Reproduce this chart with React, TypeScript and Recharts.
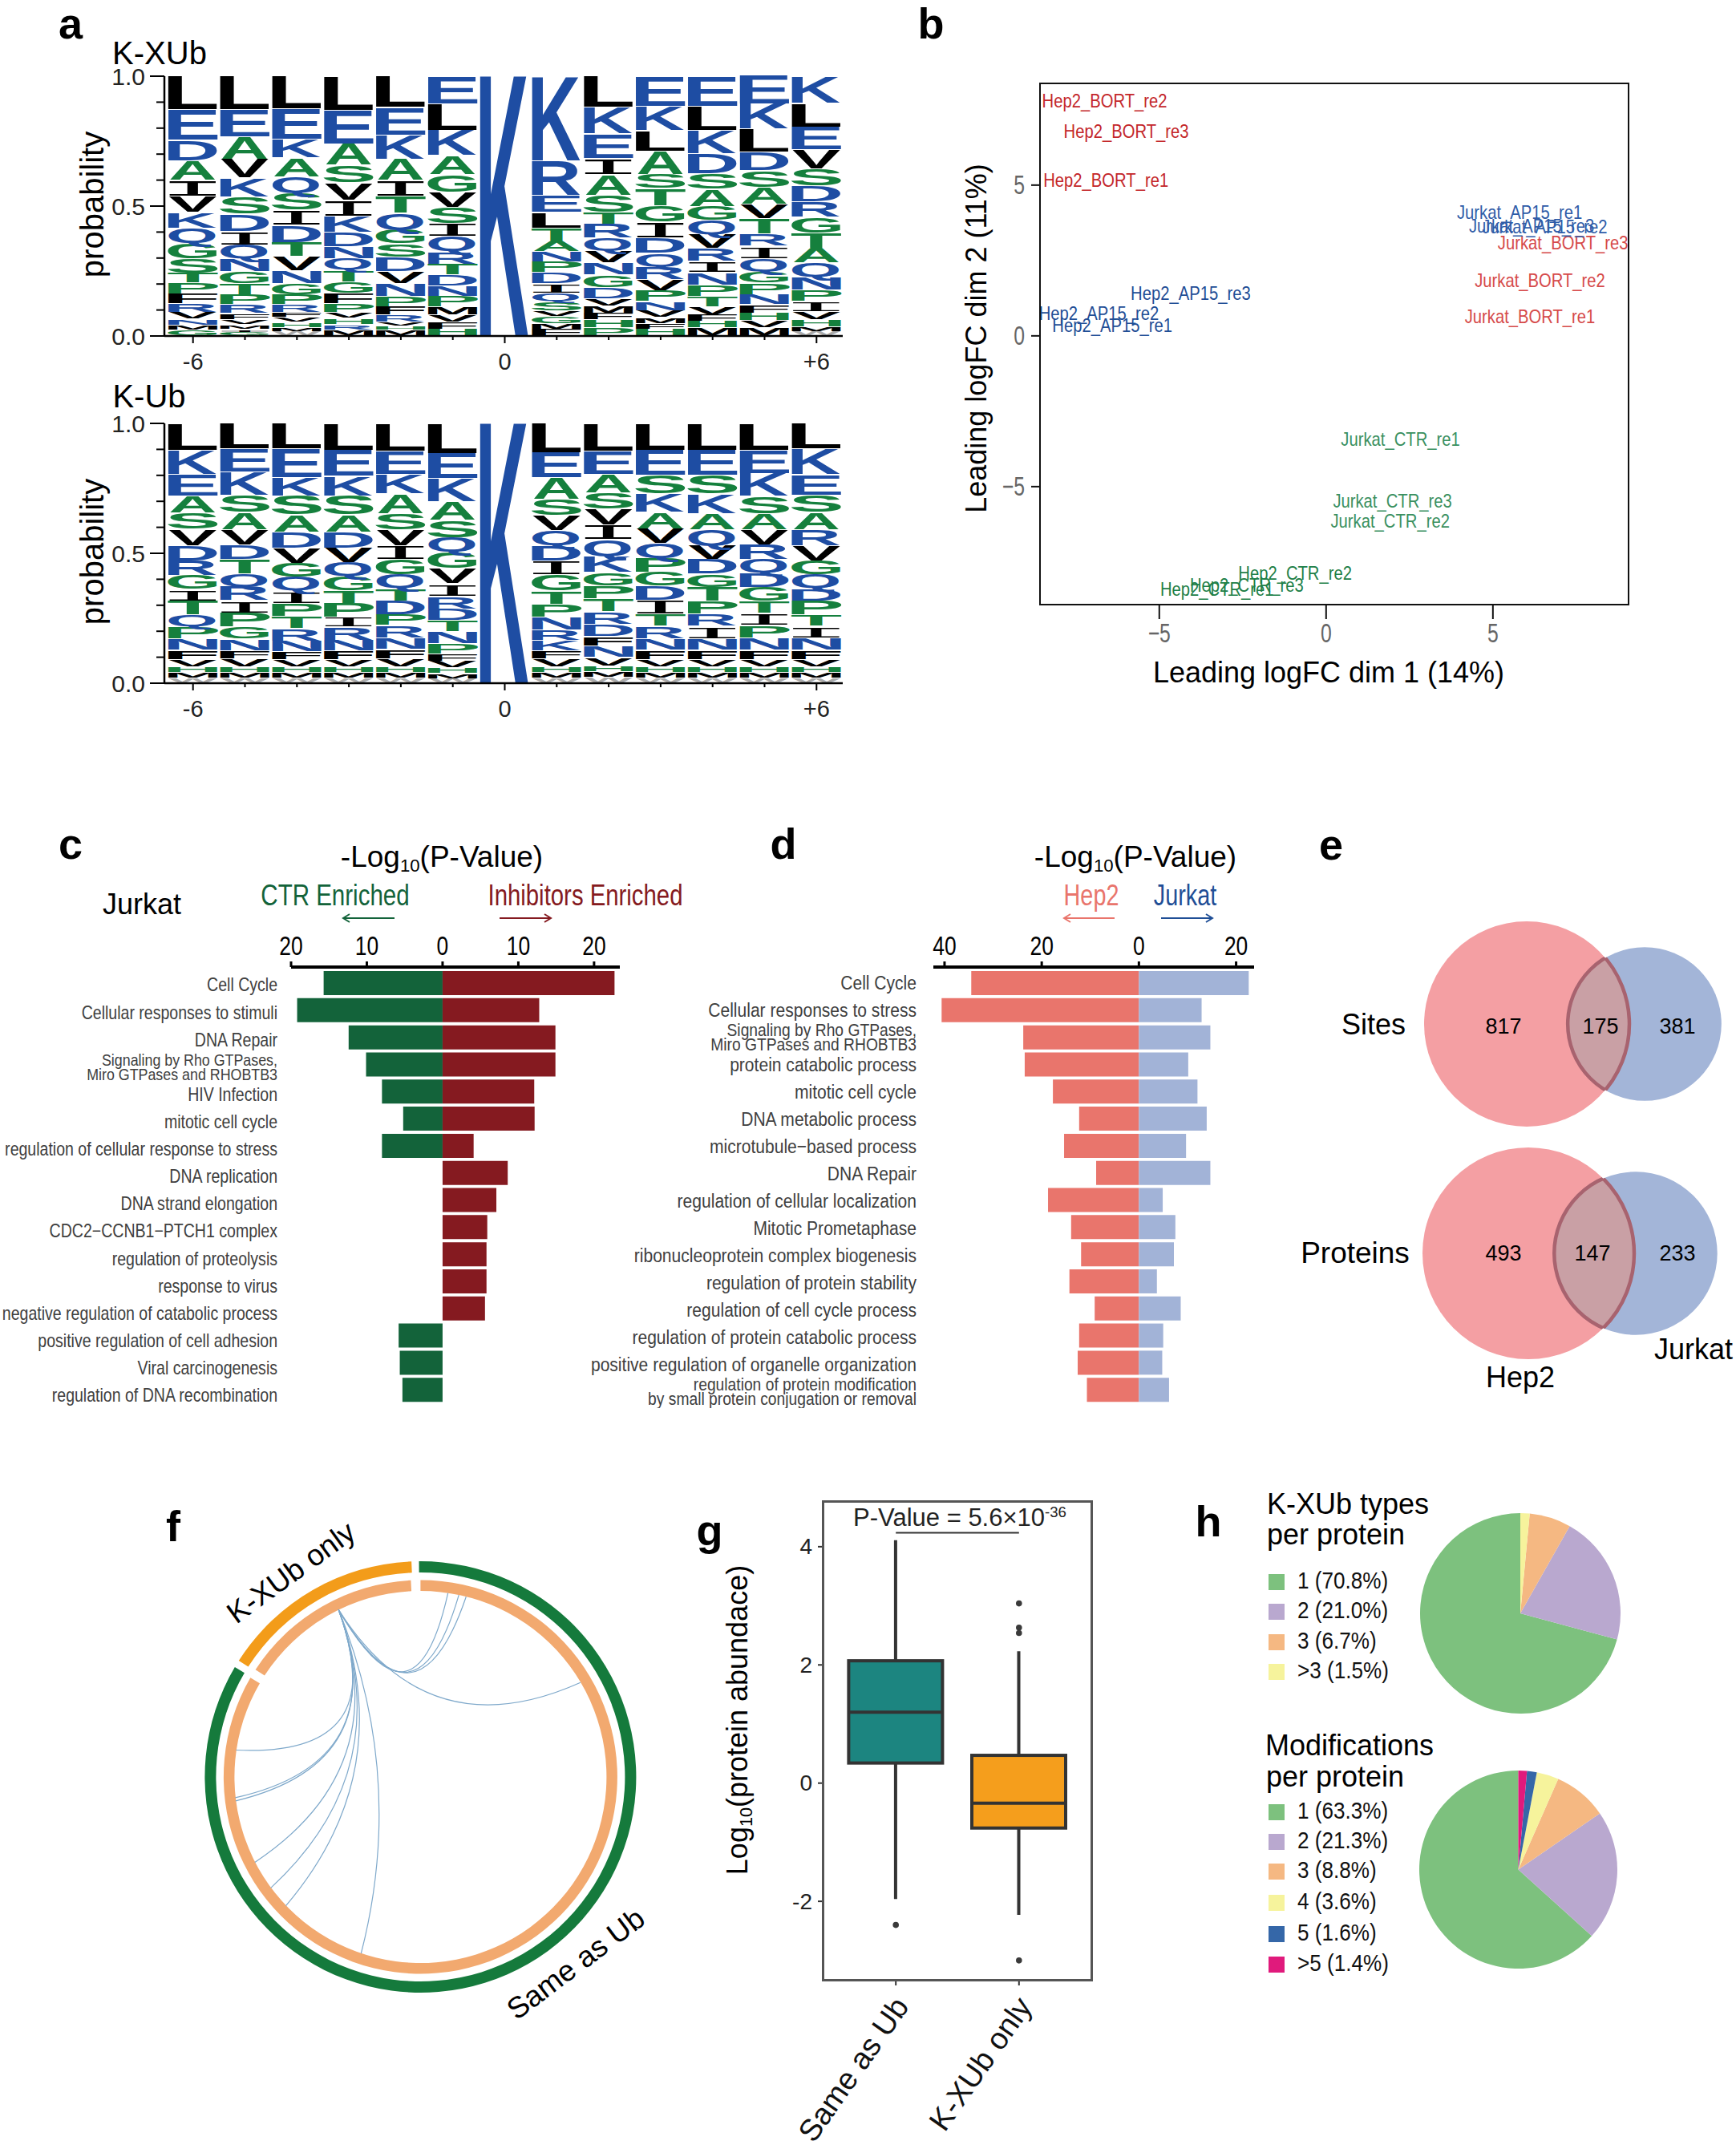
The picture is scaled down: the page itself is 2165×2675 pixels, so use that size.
import React from "react";
import {
  Bar,
  BarChart,
  Cell,
  ComposedChart,
  Line,
  Pie,
  PieChart,
  ReferenceLine,
  Scatter,
  ScatterChart,
  XAxis,
  YAxis,
  ZAxis,
} from "recharts";

const FONT = "'Liberation Sans', Arial, sans-serif";

// panel a: letter + height in percent, top of the stack first
const logoPositions = ["-6", "-5", "-4", "-3", "-2", "-1", "0", "+1", "+2", "+3", "+4", "+5", "+6"];
const kxubColumns = [
  "L12.8 E11.9 D8 A7.4 I6.2 V6.2 K6 Q5.9 G5.9 S5.5 T4 P4.1 F3.9 R3.3 V2.6 N2.3 M2 G2.2",
  "L12.8 E10.5 A8.5 V7.2 K7.2 S6.7 D6.7 I5.1 Q5.3 N4.9 G4.6 T4.3 P3.7 R3.5 F2.4 V2 M1.7 I1.1 G1.5",
  "L12.6 E11.7 K7 A7.2 Q6.4 S6.5 I5.7 D6.7 T5.4 V5.3 N5.1 G4.3 P3.7 R3.1 F1.7 V2 H2 M1.5 W1.8",
  "L13 E13 A8.2 S6.7 V6.7 I6.2 K6.4 D5.3 N4.6 Q4.6 T4.4 G4.4 F4 P3.4 V2.3 H2.4 R2 M2.4",
  "L12 E10.6 K9.2 A8.2 I6.2 T6.5 Q6.2 G5.5 S5.1 D5.4 V4.8 N4.9 P3.9 F3.3 R2.6 V1.5 H1.5 M2.4",
  "E10.6 L10.3 K9.7 A7.2 G6.8 V5.9 S6.2 I5.1 Q5.9 R4.7 T4.3 D4.3 N3.9 P4.1 M2.9 V2.8 F2.8 H2.7",
  "K100",
  "K32.5 R13.3 E6.7 L6 T5 A4.1 N3.9 P4.1 D4.3 I3.6 Q3.2 S3.6 V2.3 G2.7 M2.1 F2.7",
  "L12 K10.1 E9.4 I6.2 A8 S6.6 T4.6 R5.3 Q5 V4.6 N4.6 G4.8 D4.4 V2.7 M2.7 F2.7 H3 P3.2",
  "E11.5 K9.4 L8 A8.9 S5.3 T6.7 G6.2 I6.2 D6 Q5 R5 V4.3 P4.1 N3.6 V2.7 M2.3 F2.3 H2.5",
  "E11.5 L9.4 K8.9 D7.6 S6 A6.7 G5.3 Q5.3 V5.3 R5 I4.4 N4.8 P4.4 T3.9 V3 F2.5 H2.5 M3.2",
  "E10.8 K9.6 L8.9 D7.1 S6.4 A6.6 V5.3 T5.9 R4.8 I4.8 Q5 G4.4 P4.4 N3.9 F3.2 H3 V2.7 M3.2",
  "K10.3 L9.2 E8.9 V7.3 S6.6 D6.2 R5.9 G6 T5.9 A5.7 Q5.3 N5 P4.4 I3.9 V3.2 H2.7 M1.8 W1.8",
];
const kubColumns = [
  "L10.3 K9.2 E8.3 A6.7 S6.2 V6.2 D5.9 R5.7 G5.3 I4.4 T5.3 Q4.8 P4.6 N4.3 F3.6 V2.7 H2.3 M2.1 W2",
  "L9.8 E8.9 K8.9 S6.6 A6.7 V5.9 D5.5 T5.5 Q5 R5.3 I4.8 P5.3 G4.8 N4.4 F3.2 V3 H2.3 M2.1 W2",
  "L9.8 E11 K7.1 S7.3 A6.6 D6.2 V5.9 G5.3 Q5.3 I4.8 P5 T4.8 R4.8 N4.1 F3 V2.7 H2.3 M2.1 W2",
  "L10.3 E10.1 K7.5 S7.3 A6.6 D6.2 V5.7 Q5.3 G5.3 T5 P5.3 I3.9 R5 N4.1 F3.4 V2.7 H2.3 M2.1 W2",
  "L10.7 E8.9 K7.5 A7.6 S6.2 V6.2 I5.3 G5.9 Q5.3 T4.8 D5.3 P4.1 R4.8 N4.4 F3.6 V3 H2.3 M2.1 W2",
  "L11.5 E9.8 K8.9 A7.1 S6.7 Q5.7 G6.2 V5.9 I4.8 R4.8 D4.6 T4.3 N4.6 P3.9 F2.7 V2.7 H2.1 M2 W1.8",
  "K100",
  "L11.2 E9.8 A8.3 S6.2 V5.9 Q5.7 D5.9 I5.3 G6.2 T5.2 P5 N5 R3.9 K3.9 F3.2 V3 H2.3 M2.1 W2",
  "L10.7 E8.9 A7.1 S6.2 V6.2 I5.7 Q6.4 K6.2 G5.2 P5 T5 R4.8 D4.8 F3.6 N4.4 V3.2 H2.3 M2.1 W2.3",
  "L10.3 E9.6 S7.1 K7.1 A6.4 V5.7 Q5.7 P5.3 G5.3 D5.5 I5.3 T4.8 R4.8 N4.4 F3.6 V2.7 H2.3 M2.1 W2",
  "L10.3 E9.6 S7.1 K7.6 A6.2 Q6.2 V5.3 D5.7 G5 T5.3 P5 R4.8 I4.8 N4.4 F3.6 V2.7 H2.3 M2.1 W2",
  "L10.3 E8.9 K8.9 S6.6 A6.2 V5.9 R5.7 Q5.3 D5.3 G5.3 T4.8 I4.6 P4.8 N4.8 F3.6 V2.7 H2.3 M2.1 W2",
  "L9.8 K9.8 E8 S6.6 A6.7 R6.2 V5.9 G5.3 Q5.3 D4.8 P5.3 T4.4 I4.4 N4.8 F3.6 V2.7 H2.3 M2.1 W2",
];

// panel b
const hep2Bort = [
  { name: "Hep2_BORT_re2", x: -6.64, y: 7.79 },
  { name: "Hep2_BORT_re3", x: -5.99, y: 6.78 },
  { name: "Hep2_BORT_re1", x: -6.6, y: 5.15 },
];
const jurkatBort = [
  { name: "Jurkat_BORT_re3", x: 7.1, y: 3.08 },
  { name: "Jurkat_BORT_re2", x: 6.41, y: 1.83 },
  { name: "Jurkat_BORT_re1", x: 6.11, y: 0.63 },
];
const hep2Ap15 = [
  { name: "Hep2_AP15_re3", x: -4.06, y: 1.4 },
  { name: "Hep2_AP15_re2", x: -6.81, y: 0.75 },
  { name: "Hep2_AP15_re1", x: -6.41, y: 0.35 },
];
const jurkatAp15 = [
  { name: "Jurkat_AP15_re1", x: 5.8, y: 4.09 },
  { name: "Jurkat_AP15_re3", x: 6.16, y: 3.65 },
  { name: "Jurkat_AP15_re2", x: 6.55, y: 3.6 },
];
const jurkatCtr = [
  { name: "Jurkat_CTR_re1", x: 2.23, y: -3.44 },
  { name: "Jurkat_CTR_re3", x: 1.99, y: -5.48 },
  { name: "Jurkat_CTR_re2", x: 1.92, y: -6.14 },
];
const hep2Ctr = [
  { name: "Hep2_CTR_re2", x: -0.93, y: -7.89 },
  { name: "Hep2_CTR_re3", x: -2.38, y: -8.27 },
  { name: "Hep2_CTR_re1", x: -3.27, y: -8.41 },
];

// panel c
const cLabels = [
  "Cell Cycle",
  "Cellular responses to stimuli",
  "DNA Repair",
  "Signaling by Rho GTPases,|Miro GTPases and RHOBTB3",
  "HIV Infection",
  "mitotic cell cycle",
  "regulation of cellular response to stress",
  "DNA replication",
  "DNA strand elongation",
  "CDC2−CCNB1−PTCH1 complex",
  "regulation of proteolysis",
  "response to virus",
  "negative regulation of catabolic process",
  "positive regulation of cell adhesion",
  "Viral carcinogenesis",
  "regulation of DNA recombination",
];
const cCtr = [15.7, 19.2, 12.4, 10.1, 8.0, 5.2, 8.0, 0, 0, 0, 0, 0, 0, 5.8, 5.65, 5.3];
const cInhibitors = [22.7, 12.76, 14.9, 14.9, 12.1, 12.15, 4.1, 8.6, 7.1, 5.9, 5.8, 5.8, 5.6, 0, 0, 0];

// panel d
const dLabels = [
  "Cell Cycle",
  "Cellular responses to stress",
  "Signaling by Rho GTPases,|Miro GTPases and RHOBTB3",
  "protein catabolic process",
  "mitotic cell cycle",
  "DNA metabolic process",
  "microtubule−based process",
  "DNA Repair",
  "regulation of cellular localization",
  "Mitotic Prometaphase",
  "ribonucleoprotein complex biogenesis",
  "regulation of protein stability",
  "regulation of cell cycle process",
  "regulation of protein catabolic process",
  "positive regulation of organelle organization",
  "regulation of protein modification|by small protein conjugation or removal",
];
const dHep2 = [34.5, 40.6, 23.8, 23.5, 17.7, 12.3, 15.4, 8.8, 18.7, 13.95, 11.9, 14.3, 9.1, 12.3, 12.6, 10.7];
const dJurkat = [22.6, 12.9, 14.7, 10.15, 12.05, 13.95, 9.7, 14.7, 4.9, 7.5, 7.2, 3.7, 8.6, 5.0, 4.8, 6.2];

// panel e: totals per set, the circle area follows them
const sitesTotals = [992, 556];
const proteinsTotals = [640, 380];

// panel f
const ringValues = [301, 55];
const innerRingValues = [300.5, 54.2];
const linkFrom = [334, 334, 334, 334, 334, 334, 334, 334, 334, 334, 334];
const linkTo = [8.6, 12, 14.3, 59.5, 278.3, 263.6, 262.6, 242.7, 233.4, 226.2, 198.5];

// panel g
const boxNames = ["Same as Ub", "K-XUb only"];
const boxLow = [-1.96, -2.23];
const boxQ1 = [0.34, -0.76];
const boxMedian = [1.2, -0.34];
const boxQ3 = [2.07, 0.47];
const boxHigh = [4.11, 2.23];
const boxOutliers = [[-2.4], [3.04, 2.63, 2.54, -3.0]];

// panel h
const typesLabels = ["1 (70.8%)", "2 (21.0%)", "3 (6.7%)", ">3 (1.5%)"];
const typesValues = [70.8, 21.0, 6.7, 1.5];
const modsLabels = ["1 (63.3%)", "2 (21.3%)", "3 (8.8%)", "4 (3.6%)", "5 (1.6%)", ">5 (1.4%)"];
const modsValues = [63.3, 21.3, 8.8, 3.6, 1.6, 1.4];
const pieColors = ["#7DC17E", "#B9A8CF", "#F5B882", "#F6F39C", "#3567A8", "#E01A7C"];

const LOGO_BLUE = "#1E4DA3";
const LOGO_GREEN = "#15803D";
const letterColor: Record<string, string> = {
  K: LOGO_BLUE, E: LOGO_BLUE, D: LOGO_BLUE, R: LOGO_BLUE, Q: LOGO_BLUE, N: LOGO_BLUE,
  A: LOGO_GREEN, G: LOGO_GREEN, S: LOGO_GREEN, T: LOGO_GREEN, P: LOGO_GREEN, H: LOGO_GREEN,
  L: "#000", V: "#000", I: "#000", F: "#000", M: "#000", W: "#aaa",
};
// ink extent of each bold glyph, in em
const letterInk: Record<string, number[]> = {
  A: [0, 0.722], D: [0.07, 0.68], E: [0.07, 0.62], F: [0.07, 0.57], G: [0.05, 0.72],
  H: [0.07, 0.65], I: [0.09, 0.51], K: [0.07, 0.72], L: [0.07, 0.58], M: [0.07, 0.76],
  N: [0.07, 0.65], P: [0.07, 0.62], Q: [0.04, 0.76], R: [0.07, 0.71], S: [0.04, 0.62],
  T: [0.02, 0.59], V: [0, 0.665], W: [0, 0.94],
};

function toLogoRows(columns: string[]) {
  return columns.map((col, i) => {
    const parts = col.split(" ").reverse();
    const sum = parts.reduce((s, p) => s + parseFloat(p.slice(1)), 0);
    const row: any = { pos: logoPositions[i] };
    parts.forEach((p, j) => {
      row["h" + j] = parseFloat(p.slice(1)) / sum;
      row["l" + j] = p[0];
    });
    return row;
  });
}

function LogoLetter({ x, y, width, height, letter }: any) {
  if (!letter || !height) return <g />;
  const ink = letterInk[letter];
  const sx = width / ((ink[1] - ink[0]) * 100);
  const h = Math.max(height - 1.2, 0.5);
  const sy = h / 68.8;
  const isI = letter === "I";
  return (
    <text
      transform={`translate(${x - ink[0] * 100 * sx},${y + height - 0.6}) scale(${sx},${sy})`}
      fontFamily={isI ? "'Liberation Mono'" : FONT}
      fontWeight={isI ? "normal" : "bold"}
      fontSize={100}
      fill={letterColor[letter]}
    >
      {letter}
    </text>
  );
}

function LogoYTick({ x, y, payload }: any) {
  const major = [0, 0.5, 1].includes(payload.value);
  return (
    <g>
      <line x1={x - (major ? 18 : 10)} x2={x} y1={y} y2={y} stroke="#000" strokeWidth={2} />
      {major && (
        <text x={x - 24} y={y} textAnchor="end" dominantBaseline="central" fontFamily={FONT} fontSize={30} fill="#222">
          {payload.value.toFixed(1)}
        </text>
      )}
    </g>
  );
}

function LogoXTick({ x, y, payload }: any) {
  const major = ["-6", "0", "+6"].includes(payload.value);
  return (
    <g>
      <line x1={x} x2={x} y1={y} y2={y + (major ? 9 : 5)} stroke="#000" strokeWidth={2} />
      {major && (
        <text x={x} y={y + 32} textAnchor="middle" dominantBaseline="central" fontFamily={FONT} fontSize={29} fill="#222">
          {payload.value}
        </text>
      )}
    </g>
  );
}

function SeqLogo({ columns, top }: { columns: string[]; top: number }) {
  const rows = toLogoRows(columns);
  const layers = Array.from({ length: 19 }, (_, j) => j);
  return (
    <div style={{ position: "absolute", left: 120, top: top - 10 }}>
      <BarChart width={941} height={385} data={rows} margin={{ top: 10, right: 10, bottom: 0, left: 0 }} barSize={60}>
        <XAxis
          dataKey="pos"
          height={51}
          interval={0}
          padding={{ left: 3.3, right: 0.3 }}
          tickLine={false}
          tickSize={0}
          tickMargin={0}
          axisLine={{ stroke: "#000", strokeWidth: 2.5 }}
          tick={(p: any) => <LogoXTick {...p} />}
        />
        <YAxis
          type="number"
          width={85}
          domain={[0, 1]}
          ticks={[0, 0.1, 0.2, 0.3, 0.4, 0.5, 0.6, 0.7, 0.8, 0.9, 1]}
          interval={0}
          tickLine={false}
          tickSize={0}
          tickMargin={0}
          axisLine={{ stroke: "#000", strokeWidth: 2.5 }}
          tick={(p: any) => <LogoYTick {...p} />}
        />
        {layers.map((j) => (
          <Bar
            key={j}
            dataKey={"h" + j}
            stackId="logo"
            isAnimationActive={false}
            shape={(p: any) => <LogoLetter {...p} letter={p.payload["l" + j]} />}
          />
        ))}
      </BarChart>
    </div>
  );
}

function Txt({ x, y, size, children, color = "#000", rotate = 0, sx = 1, bold = false }: any) {
  return (
    <div
      style={{
        position: "absolute",
        left: x,
        top: y,
        transform: `translate(-50%,-50%) rotate(${rotate}deg) scaleX(${sx})`,
        fontFamily: FONT,
        fontSize: size,
        lineHeight: 1,
        color,
        whiteSpace: "nowrap",
        fontWeight: bold ? "bold" : "normal",
      }}
    >
      {children}
    </div>
  );
}

function Sub({ children }: any) {
  return <span style={{ fontSize: "0.6em", verticalAlign: "-0.3em", lineHeight: 0 }}>{children}</span>;
}

function Arrow({ x1, x2, y, color }: any) {
  const left = Math.min(x1, x2) - 2;
  const w = Math.abs(x2 - x1) + 4;
  const a = x1 - left;
  const b = x2 - left;
  const d = x2 > x1 ? -8 : 8;
  return (
    <svg style={{ position: "absolute", left, top: y - 7 }} width={w} height={14}>
      <line x1={a} x2={b} y1={7} y2={7} stroke={color} strokeWidth={2} />
      <path d={`M${b + d},2 L${b},7 L${b + d},12`} fill="none" stroke={color} strokeWidth={2} />
    </svg>
  );
}

function Frame({ left, top, right, bottom, color, w }: any) {
  return (
    <div
      style={{
        position: "absolute",
        left,
        top,
        width: right - left,
        height: bottom - top,
        border: `${w}px solid ${color}`,
        boxSizing: "border-box",
        pointerEvents: "none",
      }}
    />
  );
}

function SvgTick({ x, y, payload, dx = 0, dy = 0, size, sx = 1, anchor = "middle", fill = "#111", fmt }: any) {
  const value = fmt ? fmt(payload.value) : payload.value;
  return (
    <text
      transform={`translate(${x + dx},${y + dy}) scale(${sx},1)`}
      textAnchor={anchor}
      dominantBaseline="central"
      fontFamily={FONT}
      fontSize={size}
      fill={fill}
    >
      {value}
    </text>
  );
}

function SampleLabel({ cx, cy, payload, fill }: any) {
  return (
    <text
      transform={`translate(${cx},${cy}) scale(0.88,1)`}
      textAnchor="middle"
      dominantBaseline="central"
      fontFamily={FONT}
      fontSize={23}
      fill={fill}
    >
      {payload.name}
    </text>
  );
}

const minusFmt = (v: number) => (v < 0 ? "−" + Math.abs(v) : String(v));

function MdsPlot() {
  const groups = [
    { data: hep2Bort, fill: "#C4272B" },
    { data: jurkatBort, fill: "#D64A4A" },
    { data: hep2Ap15, fill: "#1F4E96" },
    { data: jurkatAp15, fill: "#2F5CA8" },
    { data: jurkatCtr, fill: "#3A9060" },
    { data: hep2Ctr, fill: "#1E8048" },
  ];
  return (
    <div style={{ position: "absolute", left: 1230, top: 103 }}>
      <ScatterChart width={812} height={712} margin={{ top: 0, right: 10, bottom: 0, left: 0 }}>
        <XAxis
          type="number"
          dataKey="x"
          height={60}
          domain={[-8.6, 9.09]}
          ticks={[-5, 0, 5]}
          allowDataOverflow
          tickSize={17}
          tickMargin={0}
          axisLine={false}
          tickLine={{ stroke: "#111", strokeWidth: 2 }}
          tick={(p: any) => <SvgTick {...p} dy={18} size={33} sx={0.75} fmt={minusFmt} />}
        />
        <YAxis
          type="number"
          dataKey="y"
          width={66}
          domain={[-8.94, 8.4]}
          ticks={[-5, 0, 5]}
          allowDataOverflow
          tickSize={10}
          tickMargin={0}
          axisLine={false}
          tickLine={{ stroke: "#111", strokeWidth: 2 }}
          tick={(p: any) => <SvgTick {...p} dx={-8} size={33} sx={0.75} anchor="end" fmt={minusFmt} />}
        />
        {groups.map((g, i) => (
          <Scatter
            key={i}
            data={g.data}
            isAnimationActive={false}
            shape={(p: any) => <SampleLabel {...p} fill={g.fill} />}
          />
        ))}
      </ScatterChart>
    </div>
  );
}

function EnrichLabel({ x, y, index, payload, offset, base, step, size, size2, sx }: any) {
  const lines = String(payload.value).split("|");
  const shift = base + index * step;
  return (
    <g>
      {lines.map((line: string, i: number) => (
        <text
          key={i}
          transform={`translate(${x - offset},${y + shift + (lines.length > 1 ? (i === 0 ? -10 : 8) : 0)}) scale(${sx},1)`}
          textAnchor="end"
          dominantBaseline="central"
          fontFamily={FONT}
          fontSize={lines.length > 1 ? size2 : size}
          fill="#404040"
        >
          {line}
        </text>
      ))}
    </g>
  );
}

function EnrichChart({ left, width, yWidth, labels, leftVals, rightVals, domain, ticks, leftColor, rightColor, labelProps }: any) {
  const rows = labels.map((label: string, i: number) => ({ label, a: -leftVals[i], b: rightVals[i] }));
  return (
    <div style={{ position: "absolute", left, top: 1146 }}>
      <BarChart
        width={width}
        height={610}
        data={rows}
        layout="vertical"
        stackOffset="sign"
        barSize={30}
        margin={{ top: 0, right: 10, bottom: 6, left: 0 }}
      >
        <XAxis
          type="number"
          orientation="top"
          height={60}
          domain={domain}
          ticks={ticks}
          allowDataOverflow
          tickSize={7}
          tickMargin={0}
          axisLine={{ stroke: "#000", strokeWidth: 4 }}
          tickLine={{ stroke: "#000", strokeWidth: 3 }}
          tick={(p: any) => <SvgTick {...p} dy={-20} size={33} sx={0.8} fill="#000" fmt={(v: number) => Math.abs(v)} />}
        />
        <YAxis
          type="category"
          dataKey="label"
          width={yWidth}
          interval={0}
          padding={{ top: 3, bottom: 0 }}
          axisLine={false}
          tickLine={false}
          tickSize={0}
          tickMargin={0}
          tick={(p: any) => <EnrichLabel {...p} {...labelProps} />}
        />
        <Bar dataKey="a" stackId="s" fill={leftColor} isAnimationActive={false} />
        <Bar dataKey="b" stackId="s" fill={rightColor} isAnimationActive={false} />
      </BarChart>
    </div>
  );
}

function VennFill({ cx, cy, size, fill, clipId }: any) {
  const r = Math.sqrt(size / Math.PI);
  return (
    <g>
      <defs>
        <clipPath id={clipId}>
          <circle cx={cx} cy={cy} r={r} />
        </clipPath>
      </defs>
      <circle cx={cx} cy={cy} r={r} fill={fill} />
    </g>
  );
}

function VennLens({ cx, cy, size, clipTo, fill }: any) {
  const r = Math.sqrt(size / Math.PI);
  return (
    <circle cx={cx} cy={cy} r={r} fill={fill} stroke="#A8636F" strokeWidth={4.5} clipPath={`url(#${clipTo})`} />
  );
}

function Venn({ id, top, height, totals, xs, maxArea }: any) {
  const hep2 = [{ x: xs[0], y: 0, n: totals[0] }];
  const jurkat = [{ x: xs[1], y: 0, n: totals[1] }];
  return (
    <div style={{ position: "absolute", left: 1770, top }}>
      <ScatterChart width={385} height={height} margin={{ top: 0, right: 0, bottom: 0, left: 0 }}>
        <XAxis type="number" dataKey="x" domain={[0, 385]} hide />
        <YAxis type="number" dataKey="y" domain={[-1, 1]} hide />
        <ZAxis type="number" dataKey="n" domain={[0, totals[0]]} range={[0, maxArea]} />
        <Scatter
          data={jurkat}
          isAnimationActive={false}
          shape={(p: any) => <VennFill {...p} fill="#A3B5D8" clipId={id + "-j"} />}
        />
        <Scatter
          data={hep2}
          isAnimationActive={false}
          shape={(p: any) => <VennFill {...p} fill="#F49FA3" clipId={id + "-h"} />}
        />
        <Scatter
          data={jurkat}
          isAnimationActive={false}
          shape={(p: any) => <VennLens {...p} fill="#C9A0A5" clipTo={id + "-h"} />}
        />
        <Scatter
          data={hep2}
          isAnimationActive={false}
          shape={(p: any) => <VennLens {...p} fill="none" clipTo={id + "-j"} />}
        />
      </ScatterChart>
    </div>
  );
}

const LINK_R = 232;

function LinkCurve({ cx, cy, payload }: any) {
  const rad = (d: number) => (d * Math.PI) / 180;
  const a = rad(payload.from);
  const b = rad(payload.to);
  const ox = cx - LINK_R * Math.sin(a);
  const oy = cy + LINK_R * Math.cos(a);
  const bx = ox + LINK_R * Math.sin(b);
  const by = oy - LINK_R * Math.cos(b);
  const mx = (cx + bx) / 2;
  const my = (cy + by) / 2;
  const qx = mx + (ox - mx) * 0.8;
  const qy = my + (oy - my) * 0.8;
  return <path d={`M${cx},${cy} Q${qx},${qy} ${bx},${by}`} fill="none" stroke="#7FA9CB" strokeWidth={1.2} />;
}

function Chord() {
  const ringData = ringValues.map((value) => ({ value }));
  const innerData = innerRingValues.map((value) => ({ value }));
  const links = linkTo.map((to, i) => {
    const a = (linkFrom[i] * Math.PI) / 180;
    return { x: Math.sin(a), y: Math.cos(a), from: linkFrom[i], to };
  });
  return (
    <>
      <div style={{ position: "absolute", left: 244, top: 1936 }}>
        <PieChart width={561} height={560} margin={{ top: 0, right: 0, bottom: 0, left: 0 }}>
          <Pie
            data={ringData}
            dataKey="value"
            cx={280.4}
            cy={280}
            innerRadius={255}
            outerRadius={269}
            startAngle={90.4}
            endAngle={-269.6}
            paddingAngle={2}
            stroke="none"
            isAnimationActive={false}
          >
            <Cell fill="#157A3C" />
            <Cell fill="#F39C1A" />
          </Pie>
          <Pie
            data={innerData}
            dataKey="value"
            cx={280.4}
            cy={280}
            innerRadius={232}
            outerRadius={245.5}
            startAngle={90}
            endAngle={-270}
            paddingAngle={2.8}
            stroke="none"
            fill="#F2A96F"
            isAnimationActive={false}
          />
        </PieChart>
      </div>
      <div style={{ position: "absolute", left: 292.4, top: 1984 }}>
        <ScatterChart width={LINK_R * 2} height={LINK_R * 2} margin={{ top: 0, right: 0, bottom: 0, left: 0 }}>
          <XAxis type="number" dataKey="x" domain={[-1, 1]} hide allowDataOverflow />
          <YAxis type="number" dataKey="y" domain={[-1, 1]} hide allowDataOverflow />
          <Scatter data={links} isAnimationActive={false} shape={(p: any) => <LinkCurve {...p} />} />
        </ScatterChart>
      </div>
    </>
  );
}

function BoxShape({ x, y, width, height, payload, index }: any) {
  const perUnit = Math.abs(height) / (payload.q3 - payload.q1);
  const top = Math.min(y, y + height);
  const toY = (v: number) => top + (payload.q3 - v) * perUnit;
  const cx = x + width / 2;
  const color = "#333";
  const fills = ["#1C8580", "#F59E1C"];
  return (
    <g>
      <line x1={cx} x2={cx} y1={toY(payload.high)} y2={toY(payload.low)} stroke={color} strokeWidth={4} />
      <rect x={x} y={top} width={width} height={Math.abs(height)} fill={fills[index]} stroke={color} strokeWidth={4} />
      <line x1={x} x2={x + width} y1={toY(payload.median)} y2={toY(payload.median)} stroke={color} strokeWidth={4} />
    </g>
  );
}

function BoxXTick({ x, y, payload }: any) {
  return (
    <g>
      <line x1={x} x2={x} y1={y} y2={y + 5} stroke="#333" strokeWidth={2} />
      <text
        transform={`translate(${x + 7},${y + 24}) rotate(-55)`}
        textAnchor="end"
        dominantBaseline="central"
        fontFamily={FONT}
        fontSize={38}
        fill="#111"
      >
        {payload.value}
      </text>
    </g>
  );
}

function BoxPlot() {
  const rows: any[] = boxNames.map((name, i) => {
    const row: any = { name, low: boxLow[i], q1: boxQ1[i], median: boxMedian[i], q3: boxQ3[i], high: boxHigh[i] };
    boxOutliers[i].forEach((v, k) => {
      row["o" + k] = v;
    });
    return row;
  });
  return (
    <div style={{ position: "absolute", left: 944.6, top: 1871 }}>
      <ComposedChart width={428} height={800} data={rows} margin={{ top: 0, right: 10, bottom: 0, left: 0 }} barSize={117}>
        <XAxis
          dataKey="name"
          height={200}
          interval={0}
          padding={{ left: 15.4, right: 15.4 }}
          axisLine={false}
          tickLine={false}
          tickSize={0}
          tickMargin={0}
          tick={(p: any) => <BoxXTick {...p} />}
        />
        <YAxis
          type="number"
          width={80}
          domain={[-3.355, 4.785]}
          ticks={[-2, 0, 2, 4]}
          allowDataOverflow
          tickSize={5}
          tickMargin={0}
          axisLine={false}
          tickLine={{ stroke: "#333", strokeWidth: 2 }}
          tick={(p: any) => <SvgTick {...p} dx={-7} size={28} anchor="end" fill="#222" />}
        />
        <Bar
          dataKey={(d: any) => [d.q1, d.q3]}
          isAnimationActive={false}
          shape={(p: any) => <BoxShape {...p} />}
        />
        {["o0", "o1", "o2", "o3"].map((k) => (
          <Line
            key={k}
            dataKey={k}
            stroke="none"
            isAnimationActive={false}
            dot={{ r: 3.8, fill: "#3a3a3a", stroke: "none" }}
            legendType="none"
          />
        ))}
        <ReferenceLine
          segment={[
            { x: boxNames[0], y: 4.235 },
            { x: boxNames[1], y: 4.235 },
          ]}
          stroke="#333"
          strokeWidth={2}
        />
      </ComposedChart>
    </div>
  );
}

function MiniPie({ cx, cy, r, values }: any) {
  const data = values.map((value: number) => ({ value }));
  const size = r * 2 + 4;
  return (
    <div style={{ position: "absolute", left: cx - size / 2, top: cy - size / 2 }}>
      <PieChart width={size} height={size} margin={{ top: 0, right: 0, bottom: 0, left: 0 }}>
        <Pie
          data={data}
          dataKey="value"
          cx={size / 2}
          cy={size / 2}
          innerRadius={0}
          outerRadius={r}
          startAngle={90}
          endAngle={450}
          stroke="none"
          isAnimationActive={false}
        >
          {values.map((_: number, i: number) => (
            <Cell key={i} fill={pieColors[i]} />
          ))}
        </Pie>
      </PieChart>
    </div>
  );
}

function PieLegend({ labels, ys }: any) {
  return (
    <>
      {labels.map((label: string, i: number) => (
        <React.Fragment key={label}>
          <div
            style={{
              position: "absolute",
              left: 1582,
              top: ys[i] - 10,
              width: 20,
              height: 20,
              background: pieColors[i],
            }}
          />
          <div
            style={{
              position: "absolute",
              left: 1618,
              top: ys[i] - 2,
              transform: "translateY(-50%) scaleX(0.87)",
              transformOrigin: "left center",
              fontFamily: FONT,
              fontSize: 30,
              lineHeight: 1,
              whiteSpace: "nowrap",
              color: "#111",
            }}
          >
            {label}
          </div>
        </React.Fragment>
      ))}
    </>
  );
}

const panelLetters = [
  ["a", 88, 29],
  ["b", 1161, 29],
  ["c", 88, 1052],
  ["d", 977, 1052],
  ["e", 1660, 1053],
  ["f", 216, 1903],
  ["g", 885, 1908],
  ["h", 1507, 1897],
];

export default function App() {
  return (
    <div style={{ position: "absolute", left: 0, top: 0, width: 2165, height: 2675, background: "#fff", overflow: "hidden" }}>
      {panelLetters.map(([t, x, y]) => (
        <Txt key={t as string} x={x} y={y} size={54} bold>
          {t}
        </Txt>
      ))}

      {/* a */}
      <Txt x={199} y={66} size={40}>K-XUb</Txt>
      <Txt x={186} y={494} size={40}>K-Ub</Txt>
      <Txt x={115} y={255} size={40} rotate={-90}>probability</Txt>
      <Txt x={115} y={688} size={40} rotate={-90}>probability</Txt>
      <SeqLogo columns={kxubColumns} top={95} />
      <SeqLogo columns={kubColumns} top={528} />

      {/* b */}
      <MdsPlot />
      <Frame left={1296} top={103} right={2032} bottom={755} color="#111" w={2} />
      <Txt x={1657} y={839} size={36}>Leading logFC dim 1 (14%)</Txt>
      <Txt x={1218} y={422} size={36} rotate={-90}>Leading logFC dim 2 (11%)</Txt>

      {/* c */}
      <Txt x={551} y={1068} size={37}>-Log<Sub>10</Sub>(P-Value)</Txt>
      <Txt x={177} y={1128} size={36}>Jurkat</Txt>
      <Txt x={418} y={1117} size={36} sx={0.82} color="#13633A">CTR Enriched</Txt>
      <Txt x={730} y={1117} size={36} sx={0.815} color="#851A20">Inhibitors Enriched</Txt>
      <Arrow x1={492} x2={428} y={1145} color="#13633A" />
      <Arrow x1={623} x2={687} y={1145} color="#851A20" />
      <EnrichChart
        left={0}
        width={783}
        yWidth={363}
        labels={cLabels}
        leftVals={cCtr}
        rightVals={cInhibitors}
        domain={[-20, 23.4]}
        ticks={[-20, -10, 0, 10, 20]}
        leftColor="#13633A"
        rightColor="#851A20"
        labelProps={{ offset: 17, base: 3, step: 0.3, size: 23, size2: 21, sx: 0.85 }}
      />

      {/* d */}
      <Txt x={1416} y={1068} size={37}>-Log<Sub>10</Sub>(P-Value)</Txt>
      <Txt x={1361} y={1117} size={36} sx={0.8} color="#E9756C">Hep2</Txt>
      <Txt x={1478} y={1117} size={36} sx={0.8} color="#1F4E96">Jurkat</Txt>
      <Arrow x1={1390} x2={1327} y={1145} color="#E9756C" />
      <Arrow x1={1448} x2={1512} y={1145} color="#1F4E96" />
      <EnrichChart
        left={720}
        width={854}
        yWidth={444}
        labels={dLabels}
        leftVals={dHep2}
        rightVals={dJurkat}
        domain={[-42.3, 23.7]}
        ticks={[-40, -20, 0, 20]}
        leftColor="#E9756C"
        rightColor="#A2B3D7"
        labelProps={{ offset: 21, base: 0, step: 0.17, size: 24.5, size2: 22.4, sx: 0.86 }}
      />

      {/* e */}
      <Venn id="sites" top={1142} height={270} totals={sitesTotals} xs={[134, 281]} maxArea={51472} />
      <Venn id="proteins" top={1423} height={280} totals={proteinsTotals} xs={[136, 270]} maxArea={54739} />
      <Txt x={1713} y={1278} size={36}>Sites</Txt>
      <Txt x={1690} y={1562} size={37}>Proteins</Txt>
      <Txt x={1875} y={1280} size={27}>817</Txt>
      <Txt x={1996} y={1280} size={27}>175</Txt>
      <Txt x={2092} y={1280} size={27}>381</Txt>
      <Txt x={1875} y={1563} size={27}>493</Txt>
      <Txt x={1986} y={1563} size={27}>147</Txt>
      <Txt x={2092} y={1563} size={27}>233</Txt>
      <Txt x={1896} y={1718} size={36}>Hep2</Txt>
      <Txt x={2112} y={1683} size={36}>Jurkat</Txt>

      {/* f */}
      <Chord />
      <Txt x={363} y={1961} size={37} rotate={-36}>K-XUb only</Txt>
      <Txt x={718} y={2449} size={37} rotate={-37}>Same as Ub</Txt>

      {/* g */}
      <BoxPlot />
      <Frame left={1025} top={1871} right={1363} bottom={2471} color="#555" w={3} />
      <Txt x={1197} y={1892} size={31} color="#222">
        P-Value = 5.6×10<sup style={{ fontSize: "0.6em", verticalAlign: "0.55em", lineHeight: 0 }}>-36</sup>
      </Txt>
      <Txt x={920} y={2145} size={36} rotate={-90}>Log<Sub>10</Sub>(protein abundace)</Txt>

      {/* h */}
      <Txt x={1681} y={1876} size={36}>K-XUb types</Txt>
      <Txt x={1666} y={1914} size={36}>per protein</Txt>
      <PieLegend labels={typesLabels} ys={[1973, 2010, 2048, 2085]} />
      <MiniPie cx={1895.7} cy={2011.5} r={125} values={typesValues} />
      <Txt x={1683} y={2177} size={36}>Modifications</Txt>
      <Txt x={1665} y={2216} size={36}>per protein</Txt>
      <PieLegend labels={modsLabels} ys={[2260, 2297, 2334, 2373, 2412, 2450]} />
      <MiniPie cx={1893} cy={2331.8} r={123.5} values={modsValues} />
    </div>
  );
}
